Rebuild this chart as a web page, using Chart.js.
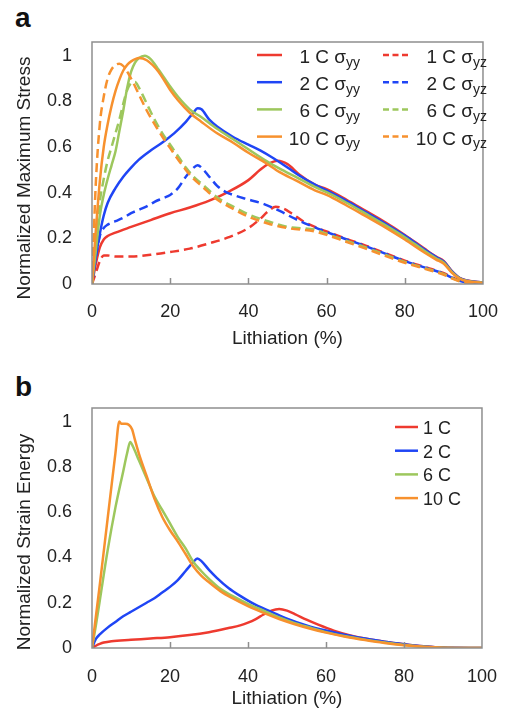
<!DOCTYPE html>
<html>
<head>
<meta charset="utf-8">
<script src="https://cdn.jsdelivr.net/npm/chart.js@4.4.1/dist/chart.umd.min.js"></script>
<style>
  body { margin: 0; background: #fff; width: 515px; height: 712px; position: relative; overflow: hidden;
         font-family: "Liberation Sans", Arial, sans-serif; }
  .panel { position: absolute; left: 0; width: 515px; height: 356px; }
  .tag { position: absolute; left: 15px; font-weight: bold; font-size: 28px; line-height: 28px; color: #111; }
</style>
</head>
<body>
<div class="tag" style="top:4px">a</div>
<div class="panel" style="top:0"><canvas id="stress" width="515" height="356"></canvas></div>
<div class="tag" style="top:373px">b</div>
<div class="panel" style="top:356px"><canvas id="energy" width="515" height="356"></canvas></div>
<script>
// C-rates and colours
var rates = ['1 C', '2 C', '6 C', '10 C'];
var colors = ['#EE3A2F', '#1F45F5', '#9DC75D', '#F7912E'];
var xTicks = [0, 20, 40, 60, 80, 100];
var yTicks = [0, 0.2, 0.4, 0.6, 0.8, 1];

// (a) normalized maximum stress, sigma_yy (solid)
var x1yy = [0,1,2,3,4,6,10,15,20,25,30,35,40,43,45,47.5,50,53,57,60,65,70,75,80,85,88,90,92,94,96,100];
var y1yy = [0,0.09,0.16,0.195,0.21,0.225,0.25,0.28,0.31,0.335,0.365,0.405,0.455,0.5,0.525,0.54,0.525,0.48,0.435,0.415,0.37,0.32,0.27,0.215,0.155,0.12,0.1,0.058,0.027,0.015,0.007];
var x2yy = [0,1,2,3,4,6,8,10,12,15,18,21,24,26,27,28,30,32,36,40,43,46,50,53,57,60,65,70,75,80,85,88,90,92,94,96,100];
var y2yy = [0,0.12,0.22,0.3,0.355,0.42,0.47,0.51,0.545,0.585,0.62,0.66,0.71,0.752,0.77,0.765,0.72,0.69,0.645,0.61,0.585,0.555,0.51,0.475,0.435,0.41,0.365,0.315,0.265,0.212,0.152,0.118,0.098,0.056,0.026,0.014,0.007];
var x6yy = [0,1,2,3,4,5,6,7,8,9,10,11,12,13.5,15,17,20,22,25,28,32,36,40,44,48,52,57,60,65,70,75,80,85,88,90,92,94,96,100];
var y6yy = [0,0.15,0.3,0.39,0.46,0.52,0.58,0.67,0.76,0.86,0.93,0.97,0.99,1.0,0.985,0.94,0.865,0.82,0.765,0.73,0.68,0.635,0.59,0.545,0.505,0.47,0.425,0.402,0.357,0.308,0.258,0.205,0.146,0.113,0.093,0.053,0.025,0.013,0.006];
var x10yy = [0,1,2,3,4,5,6,7,8,9,10,12,14,17,20,22,25,28,32,36,40,44,48,52,57,60,65,70,75,80,85,88,90,92,94,96,100];
var y10yy = [0,0.24,0.45,0.6,0.7,0.78,0.845,0.895,0.935,0.96,0.975,0.99,0.98,0.93,0.85,0.805,0.75,0.71,0.66,0.62,0.575,0.535,0.49,0.455,0.41,0.39,0.345,0.297,0.248,0.195,0.138,0.107,0.088,0.05,0.023,0.012,0.005];

// (a) sigma_yz (dashed)
var x1yz = [0,1,2,3,4,6,10,15,20,25,30,35,40,43,45,47,49,51,54,57,60,65,70,75,80,85,88,90,92,94,96,100];
var y1yz = [0,0.05,0.1,0.125,0.125,0.12,0.12,0.128,0.14,0.155,0.178,0.205,0.245,0.285,0.318,0.338,0.33,0.31,0.275,0.25,0.23,0.198,0.168,0.135,0.102,0.075,0.059,0.047,0.03,0.015,0.008,0.003];
var x2yz = [0,1,2,3,4,6,8,10,12,14,16,18,20,22,24,26,27,28,30,32,34,37,40,44,48,52,57,60,65,70,75,80,85,88,90,92,94,96,100];
var y2yz = [0,0.12,0.21,0.245,0.26,0.275,0.29,0.31,0.325,0.34,0.36,0.375,0.39,0.42,0.47,0.51,0.52,0.51,0.47,0.43,0.405,0.385,0.37,0.35,0.32,0.285,0.248,0.228,0.196,0.166,0.133,0.1,0.073,0.057,0.045,0.028,0.014,0.007,0.003];
var x6yz = [0,1,2,3,4,5,6,7,8,9,10,11,12,14,16,18,20,22,24,26,28,32,36,40,45,50,57,60,65,70,75,80,85,88,90,92,94,96,100];
var y6yz = [0,0.18,0.36,0.46,0.54,0.6,0.66,0.72,0.79,0.85,0.88,0.885,0.86,0.79,0.72,0.66,0.61,0.56,0.51,0.47,0.44,0.38,0.34,0.305,0.275,0.25,0.238,0.22,0.19,0.16,0.128,0.097,0.07,0.055,0.043,0.027,0.013,0.006,0.003];
var x10yz = [0,1,2,3,4,5,6,7,8,10,12,14,16,18,20,22,24,26,28,32,36,40,45,50,57,60,65,70,75,80,85,88,90,92,94,96,100];
var y10yz = [0,0.45,0.7,0.82,0.9,0.94,0.96,0.965,0.955,0.9,0.83,0.76,0.7,0.645,0.595,0.545,0.5,0.46,0.43,0.37,0.33,0.295,0.265,0.245,0.23,0.215,0.185,0.155,0.123,0.093,0.067,0.052,0.04,0.025,0.012,0.005,0.002];

// (b) normalized strain energy
var x1e = [0,1,2,3,5,10,15,20,25,30,35,38,40,42,44,46,48,50,52,55,58,62,66,70,75,80,85,90,100];
var y1e = [0,0.01,0.018,0.024,0.03,0.036,0.042,0.048,0.057,0.07,0.088,0.1,0.112,0.128,0.148,0.165,0.172,0.165,0.15,0.125,0.103,0.077,0.057,0.042,0.028,0.017,0.008,0.002,0];
var x2e = [0,1,2,4,6,8,10,12,14,16,18,20,22,24,26,27,28,30,32,35,38,42,46,50,55,60,65,70,75,80,85,90,100];
var y2e = [0,0.04,0.06,0.09,0.115,0.14,0.16,0.18,0.2,0.22,0.245,0.27,0.3,0.34,0.38,0.395,0.385,0.345,0.31,0.265,0.23,0.19,0.16,0.13,0.1,0.077,0.058,0.042,0.028,0.017,0.008,0.002,0];
var x6e = [0,1,2,4,6,8,9,9.8,10.5,12,14,16,18,20,22,24,26,28,30,33,36,40,44,48,52,56,60,65,70,75,80,85,90,100];
var y6e = [0,0.1,0.21,0.43,0.62,0.78,0.86,0.91,0.89,0.83,0.75,0.67,0.61,0.55,0.49,0.44,0.38,0.34,0.305,0.26,0.23,0.195,0.165,0.135,0.11,0.09,0.07,0.052,0.037,0.024,0.013,0.006,0.001,0];
var x10e = [0,2,4,6,7,7.5,8.5,9.5,10.3,11,12,14,16,18,20,22,24,26,28,30,33,36,40,44,48,52,56,60,65,70,75,80,85,90,100];
var y10e = [0,0.28,0.57,0.86,1.0,0.99,0.99,0.985,0.965,0.92,0.86,0.76,0.66,0.58,0.52,0.47,0.415,0.36,0.32,0.29,0.25,0.22,0.185,0.155,0.128,0.105,0.085,0.068,0.05,0.035,0.022,0.012,0.005,0.001,0];

var FONT = '"Liberation Sans", Arial, sans-serif';

function series(xs, ys, k, dashed, sub) {
    return {
        label: rates[k],
        sub: sub,
        data: xs.map((x, i) => ({ x: x, y: ys[i] })),
        borderColor: colors[k],
        borderWidth: 2.5,
        borderDash: dashed ? [9, 5] : [],
        pointRadius: 0,
        fill: false,
        cubicInterpolationMode: 'monotone',
        order: 3 - k   // orange on top
    };
}

// frame, inner tick marks, rotated y title and the legend
var decor = {
    id: 'decor',
    afterDatasetsDraw(chart, args, opts) {
        var ctx = chart.ctx, a = chart.chartArea, xs = chart.scales.x;
        ctx.save();
        ctx.strokeStyle = '#8e8e8e';
        ctx.lineWidth = 1.5;
        ctx.setLineDash([]);
        ctx.strokeRect(a.left, a.top, a.right - a.left, a.bottom - a.top);
        ctx.beginPath();
        xs.ticks.forEach(t => {
            if (t.value <= xs.min || t.value >= xs.max) return;
            var px = Math.round(xs.getPixelForValue(t.value)) + 0.5;
            ctx.moveTo(px, a.bottom);
            ctx.lineTo(px, a.bottom - 6);
        });
        ctx.stroke();

        ctx.fillStyle = '#222';
        ctx.font = '19px ' + FONT;
        ctx.textAlign = 'center';
        ctx.textBaseline = 'middle';
        ctx.translate(opts.titleX, opts.titleY);
        ctx.rotate(-Math.PI / 2);
        ctx.fillText(opts.yTitle, 0, 0);
        ctx.restore();

        var L = opts.legend;
        chart.data.datasets.forEach((ds, i) => {
            var col = Math.floor(i / 4), row = i % 4;
            var y = L.top + row * L.rowH;
            var lx = L.lineX[col];
            ctx.save();
            ctx.strokeStyle = ds.borderColor;
            ctx.lineWidth = 2.5;
            ctx.setLineDash(ds.borderDash.length ? [6, 3.5] : []);
            ctx.beginPath();
            ctx.moveTo(lx, y);
            ctx.lineTo(lx + L.lineW, y);
            ctx.stroke();
            ctx.fillStyle = '#222';
            ctx.textBaseline = 'alphabetic';
            var main = ds.sub ? ds.label + ' σ' : ds.label;
            ctx.font = L.size + 'px ' + FONT;
            var wMain = ctx.measureText(main).width;
            var wSub = 0;
            if (ds.sub) {
                ctx.font = L.subSize + 'px ' + FONT;
                wSub = ctx.measureText(ds.sub).width;
            }
            var tx = L.textRight ? L.textRight[col] - wMain - wSub : L.textLeft;
            ctx.font = L.size + 'px ' + FONT;
            ctx.textAlign = 'left';
            ctx.fillText(main, tx, y + L.base);
            if (ds.sub) {
                ctx.font = L.subSize + 'px ' + FONT;
                ctx.fillText(ds.sub, tx + wMain, y + L.base + 3.5);
            }
            ctx.restore();
        });
    }
};

function makeChart(id, datasets, opt) {
    return new Chart(document.getElementById(id), {
        type: 'line',
        data: { datasets: datasets },
        plugins: [decor],
        options: {
            responsive: false,
            animation: false,
            layout: { padding: { left: 0, top: opt.top, right: opt.right, bottom: 0 } },
            plugins: {
                legend: { display: false },
                tooltip: { enabled: false },
                decor: { yTitle: opt.yTitle, titleX: 25, titleY: opt.titleY, legend: opt.legend }
            },
            scales: {
                x: {
                    type: 'linear', min: 0, max: 100,
                    afterBuildTicks: s => { s.ticks = xTicks.map(v => ({ value: v })); },
                    afterFit: s => { s.height = opt.xHeight; },
                    grid: { display: false, drawTicks: false },
                    border: { display: false },
                    ticks: { padding: opt.xPad, color: '#222', font: { size: 18, family: FONT }, maxRotation: 0 },
                    title: { display: true, text: 'Lithiation (%)', color: '#222',
                             font: { size: 19, family: FONT }, padding: { top: 0, bottom: opt.titlePad } }
                },
                y: {
                    type: 'linear', min: 0, max: 1.06,
                    afterBuildTicks: s => { s.ticks = yTicks.map(v => ({ value: v })); },
                    afterFit: s => { s.width = 92; },
                    grid: { display: false, drawTicks: false },
                    border: { display: false },
                    ticks: { padding: 20, color: '#222', font: { size: 18, family: FONT },
                             callback: v => String(v) }
                }
            }
        }
    });
}

var stressSets = [
    series(x1yy, y1yy, 0, false, 'yy'), series(x2yy, y2yy, 1, false, 'yy'),
    series(x6yy, y6yy, 2, false, 'yy'), series(x10yy, y10yy, 3, false, 'yy'),
    series(x1yz, y1yz, 0, true, 'yz'), series(x2yz, y2yz, 1, true, 'yz'),
    series(x6yz, y6yz, 2, true, 'yz'), series(x10yz, y10yz, 3, true, 'yz')
];
var energySets = [
    series(x1e, y1e, 0, false), series(x2e, y2e, 1, false),
    series(x6e, y6e, 2, false), series(x10e, y10e, 3, false)
];

makeChart('stress', stressSets, {
    top: 42, right: 22, xHeight: 72, xPad: 17, titlePad: 6,
    yTitle: 'Normalized Maximum Stress', titleY: 178,
    legend: { top: 55, rowH: 27.2, lineX: [257, 383], lineW: 25, textRight: [360, 487],
              size: 19, subSize: 14, base: 8 }
});
makeChart('energy', energySets, {
    top: 52, right: 23, xHeight: 64, xPad: 18, titlePad: 2,
    yTitle: 'Normalized Strain Energy', titleY: 186,
    legend: { top: 71, rowH: 23.7, lineX: [395], lineW: 23, textLeft: 423,
              size: 18, subSize: 13, base: 7 }
});
</script>
</body>
</html>
